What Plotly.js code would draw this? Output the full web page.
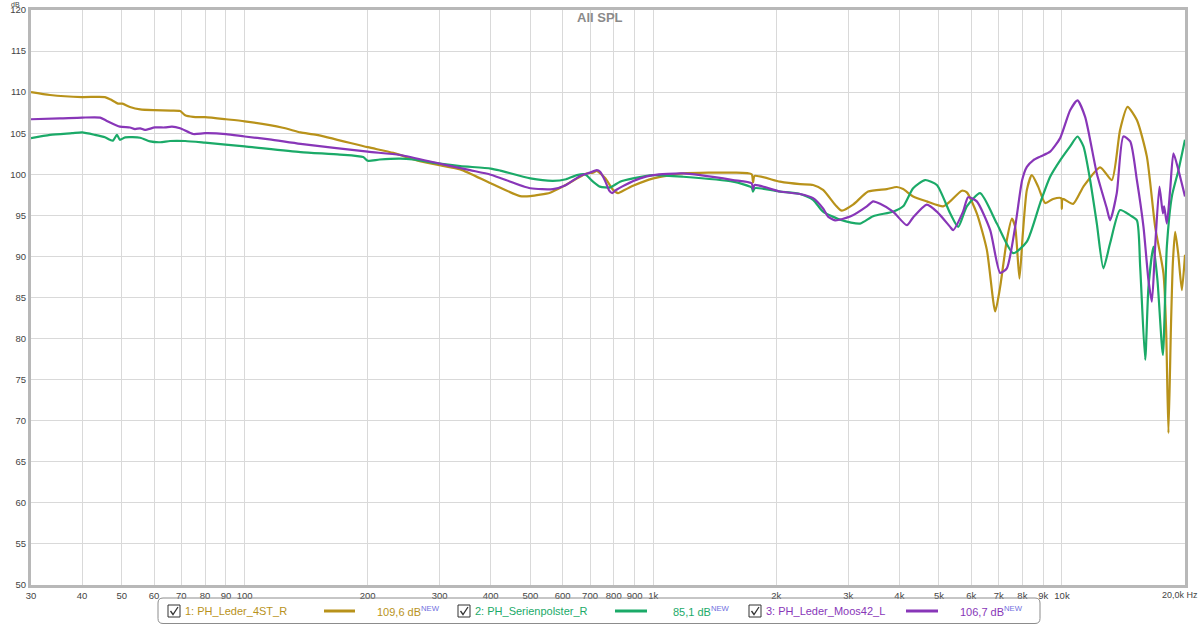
<!DOCTYPE html>
<html>
<head>
<meta charset="utf-8">
<script src="https://cdn.plot.ly/plotly-3.0.1.min.js"></script>
<style>html,body{margin:0;padding:0;background:#fff;}#chart{width:1200px;height:625px;}</style>
</head>
<body>
<div id="chart"></div>
<script>
// ---- data ----
const freqGold = [30, 33.4, 40, 45.5, 47, 49, 50.2, 52.4, 55.5, 60, 66, 69.5, 71.5, 74.8, 80, 90, 100, 124, 137, 150, 200, 231, 264, 300, 337, 400, 472, 500, 559, 600, 662, 687, 712, 727, 762, 797, 820, 829, 892, 1000, 1183, 1567, 1740, 1754, 1770, 2042, 2286, 2460, 2602, 2785, 2892, 3081, 3354, 3727, 3942, 4086, 4323, 4669, 5119, 5325, 5688, 5850, 6188, 6549, 6864, 7058, 7329, 7540, 7681, 7869, 8021, 8205, 8439, 8743, 9095, 9513, 9950, 9992, 10040, 10649, 11285, 12398, 13240, 13871, 14467, 15249, 16133, 16904, 17714, 17985, 18219, 18468, 18677, 18921, 19244, 19651, 20000];
const splGold = [110.0, 109.65, 109.4, 109.4, 109.1, 108.6, 108.6, 108.2, 107.9, 107.8, 107.75, 107.7, 107.2, 107.0, 106.95, 106.7, 106.45, 105.67, 105.1, 104.8, 103.3, 102.6, 101.7, 101.1, 100.6, 98.9, 97.35, 97.35, 97.76, 98.5, 99.7, 100.1, 100.2, 100.4, 99.55, 98.1, 97.7, 97.8, 98.6, 99.5, 100.1, 100.2, 100.0, 99.0, 99.8, 99.1, 98.8, 98.7, 98.1, 96.3, 95.57, 96.3, 97.9, 98.2, 98.45, 98.2, 97.3, 96.7, 96.1, 96.7, 98.0, 97.8, 95.25, 90.8, 83.3, 86.3, 92.0, 94.6, 93.6, 87.3, 92.8, 98.1, 99.9, 98.5, 96.5, 97.0, 97.1, 95.8, 97.0, 96.4, 98.5, 100.85, 99.3, 105.4, 108.2, 106.6, 102.15, 93.6, 87.95, 81, 68.5, 81, 89.2, 93.0, 90.4, 85.9, 90.2];

const freqGreen = [30, 33.4, 37.8, 40, 43, 45.5, 46.8, 47.6, 48.7, 49.5, 51, 55.5, 58.7, 62.1, 65.7, 71.5, 80, 100, 137, 171, 195, 200, 214, 240, 258, 300, 337, 400, 422, 500, 568, 612, 650, 680, 712, 740, 784, 829, 892, 1000, 1183, 1567, 1740, 1754, 1770, 2042, 2286, 2460, 2602, 2892, 3206, 3450, 3860, 4086, 4323, 4625, 4941, 5325, 5571, 5850, 6306, 6928, 7595, 8205, 8843, 9354, 9896, 10470, 10911, 11285, 11718, 12169, 12628, 13114, 13871, 14688, 15249, 15536, 15980, 16280, 16744, 17125, 17654, 18056, 18572, 19277, 20000];
const splGreen = [104.4, 104.8, 105.0, 105.1, 104.8, 104.5, 104.2, 104.1, 104.8, 104.2, 104.5, 104.45, 104.0, 103.9, 104.05, 104.05, 103.85, 103.4, 102.7, 102.4, 102.1, 101.65, 101.8, 101.9, 101.8, 101.3, 101.0, 100.7, 100.45, 99.5, 99.2, 99.4, 99.9, 100.0, 99.1, 98.5, 98.4, 99.1, 99.5, 99.9, 99.7, 99.1, 98.4, 97.9, 98.3, 97.9, 97.6, 96.9, 95.45, 94.4, 94.0, 94.9, 95.45, 96.1, 98.3, 99.3, 98.7, 95.25, 93.6, 96.1, 97.7, 94.0, 90.4, 91.8, 96.5, 99.7, 101.7, 103.4, 104.6, 103.4, 99.3, 94.0, 88.55, 91.6, 95.65, 95.0, 94.4, 88.75, 77.4, 86.3, 91.2, 87.1, 78.0, 91.2, 97.3, 100.5, 104.2];

const freqPurple = [30, 35.3, 40, 44.3, 46, 49.5, 52.4, 53.9, 55.5, 57, 60.3, 63.8, 66.4, 69.5, 74.8, 80, 90, 100, 115, 137, 200, 240, 300, 356, 400, 500, 568, 612, 662, 700, 727, 741, 762, 780, 793, 806, 853, 928, 1000, 1183, 1567, 1740, 1754, 1770, 2042, 2286, 2460, 2602, 2677, 2785, 3031, 3330, 3450, 3589, 3860, 4172, 4323, 4669, 4941, 5325, 5416, 5727, 5893, 6188, 6673, 7058, 7329, 7681, 7990, 8205, 8502, 8843, 9354, 9896, 10470, 10911, 11393, 12169, 12872, 13114, 13617, 14131, 14688, 15249, 15828, 16280, 16594, 16904, 17319, 17654, 17784, 18056, 18395, 18741, 19277, 20000];
const splPurple = [106.7, 106.8, 106.9, 106.9, 106.5, 105.8, 105.7, 105.5, 105.6, 105.4, 105.7, 105.7, 105.8, 105.6, 104.9, 105.0, 104.9, 104.6, 104.25, 103.7, 102.75, 102.35, 101.3, 100.5, 99.95, 98.3, 98.2, 98.7, 99.8, 100.2, 100.5, 100.3, 99.2, 98.0, 97.7, 98.0, 98.7, 99.5, 99.9, 100.1, 99.3, 98.9, 98.2, 98.7, 97.9, 97.6, 97.1, 95.85, 94.85, 94.4, 94.85, 96.1, 96.7, 96.4, 95.45, 93.8, 94.75, 96.3, 95.45, 93.6, 93.2, 95.45, 97.2, 96.7, 93.2, 88.0, 88.55, 93.6, 99.3, 100.9, 101.7, 102.15, 102.75, 104.4, 107.8, 109.0, 107.0, 100.1, 95.85, 94.4, 97.7, 104.6, 104.0, 99.3, 93.6, 87.1, 84.5, 91.2, 98.5, 95.25, 96.1, 94.0, 98.1, 102.55, 100.5, 97.3];

const seriesNames = ['1: PH_Leder_4ST_R', '2: PH_Serienpolster_R', '3: PH_Leder_Moos42_L'];
const seriesLevels = ['109,6 dB', '85,1 dB', '106,7 dB'];

const xTickVals = [30, 40, 50, 60, 70, 80, 90, 100, 200, 300, 400, 500, 600, 700, 800, 900, 1000, 2000, 3000, 4000, 5000, 6000, 7000, 8000, 9000, 10000, 20000];
const xTickText = ['30', '40', '50', '60', '70', '80', '90', '100', '200', '300', '400', '500', '600', '700', '800', '900', '1k', '2k', '3k', '4k', '5k', '6k', '7k', '8k', '9k', '10k', ''];
const lastTickLabel = '20,0k Hz';

// ---- styling ----
const colors = ['#B8921A', '#1BAA68', '#8836B8'];
const FONT = 'Liberation Sans, Arial, sans-serif';
const PL = 31, PW = 1154, PT = 10, PH = 575;
const X = px => (px - PL) / PW;
const Y = py => (PT + PH - py) / PH;

const xs = [freqGold, freqGreen, freqPurple];
const ys = [splGold, splGreen, splPurple];
const traces = xs.map((f, i) => ({
  x: f, y: ys[i], type: 'scatter', mode: 'lines', name: seriesNames[i],
  line: {color: colors[i], width: 2.2, shape: 'spline', smoothing: 0.6},
  hoverinfo: 'skip'
}));

// legend pieces
const shapes = [];
const annotations = [];
function rrect(x0, y0, x1, y1, r) {
  const rx = r / PW, ry = r / PH;
  const a = X(x0), b = X(x1), t = Y(y0), d = Y(y1);
  return `M ${a + rx},${t} L ${b - rx},${t} Q ${b},${t} ${b},${t - ry} L ${b},${d + ry} Q ${b},${d} ${b - rx},${d} L ${a + rx},${d} Q ${a},${d} ${a},${d + ry} L ${a},${t - ry} Q ${a},${t} ${a + rx},${t} Z`;
}
shapes.push({type: 'path', xref: 'paper', yref: 'paper', path: rrect(158, 598, 1040, 623.5, 5),
  line: {color: '#8c8c8c', width: 1}, fillcolor: 'rgba(0,0,0,0)'});

const legendX = [
  {box: 168, text: 183, l0: 324, l1: 355, val: 375},
  {box: 458, text: 473, l0: 615, l1: 647, val: 671},
  {box: 749, text: 764, l0: 906, l1: 938, val: 958}
];
const cy = 611;
legendX.forEach((p, i) => {
  shapes.push({type: 'rect', xref: 'paper', yref: 'paper', x0: X(p.box), x1: X(p.box + 12), y0: Y(cy + 6), y1: Y(cy - 6),
    line: {color: '#333', width: 1}, fillcolor: '#fff'});
  shapes.push({type: 'path', xref: 'paper', yref: 'paper',
    path: `M ${X(p.box + 2.5)},${Y(cy)} L ${X(p.box + 5)},${Y(cy + 3.5)} L ${X(p.box + 10)},${Y(cy - 4)}`,
    line: {color: '#333', width: 1.3}});
  shapes.push({type: 'line', xref: 'paper', yref: 'paper', x0: X(p.l0), x1: X(p.l1), y0: Y(cy), y1: Y(cy),
    line: {color: colors[i], width: 3}});
  annotations.push({xref: 'paper', yref: 'paper', x: X(p.text), y: Y(cy), xanchor: 'left', yanchor: 'middle',
    text: seriesNames[i], showarrow: false, font: {family: FONT, size: 11, color: colors[i]}});
  annotations.push({xref: 'paper', yref: 'paper', x: X(p.val), y: Y(cy), xanchor: 'left', yanchor: 'middle',
    text: seriesLevels[i] + '<sup><span style="color:#6f6fe0">NEW</span></sup>', showarrow: false,
    font: {family: FONT, size: 11, color: colors[i]}});
});

annotations.push({xref: 'paper', yref: 'paper', x: X(600), y: Y(18), xanchor: 'center', yanchor: 'middle',
  text: '<b>All SPL</b>', showarrow: false, font: {family: FONT, size: 13, color: '#8a8a8a'}});
annotations.push({xref: 'paper', yref: 'paper', x: X(10), y: Y(0), xanchor: 'left', yanchor: 'top',
  text: 'dB', showarrow: false, font: {family: FONT, size: 7, color: '#444'}, borderpad: 0});
annotations.push({xref: 'paper', yref: 'paper', x: X(1199), y: Y(595), xanchor: 'right', yanchor: 'middle',
  text: lastTickLabel, showarrow: false, font: {family: FONT, size: 9, color: '#444'}, borderpad: 0});

const axisCommon = {
  showgrid: true, gridcolor: '#d9d9d9', gridwidth: 1,
  showline: true, linecolor: '#b8b8b8', linewidth: 3, mirror: true,
  ticks: '', zeroline: false, fixedrange: true,
  tickfont: {family: FONT, size: 9.5, color: '#444'}
};

const layout = {
  width: 1200, height: 625,
  margin: {l: PL, r: 1200 - PL - PW, t: PT, b: 625 - PT - PH, pad: 0},
  paper_bgcolor: '#fff', plot_bgcolor: '#fff',
  showlegend: false,
  xaxis: Object.assign({}, axisCommon, {
    type: 'log', range: [Math.log10(30), Math.log10(20000)],
    tickmode: 'array', tickvals: xTickVals, ticktext: xTickText
  }),
  yaxis: Object.assign({}, axisCommon, {
    range: [50, 120], tick0: 50, dtick: 5
  }),
  shapes: shapes,
  annotations: annotations
};

Plotly.newPlot('chart', traces, layout, {displayModeBar: false, staticPlot: true});
</script>
</body>
</html>
